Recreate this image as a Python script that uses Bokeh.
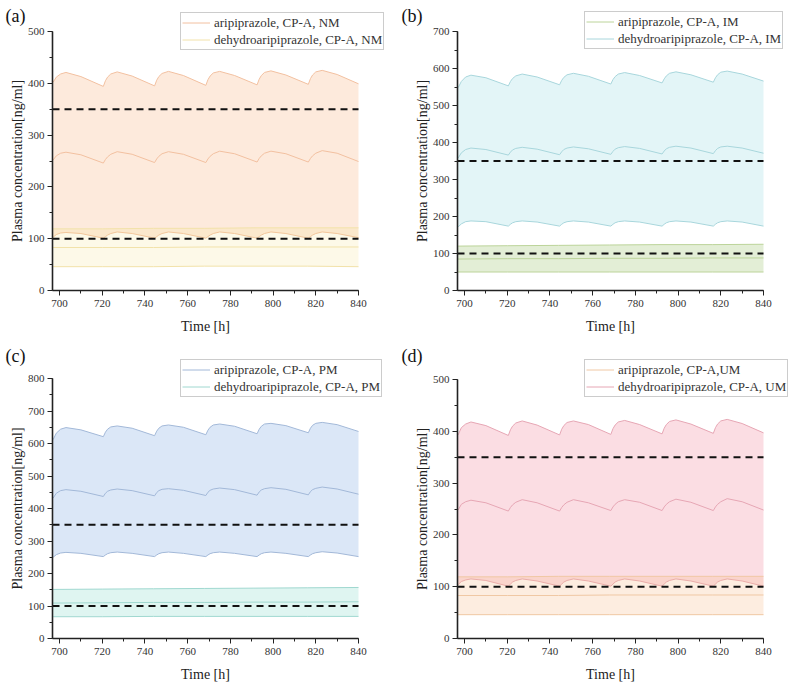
from bokeh.plotting import figure
from bokeh.layouts import gridplot
from bokeh.models import Range1d, SingleIntervalTicker, Legend, LegendItem, Label
from bokeh.embed import file_html
from bokeh.resources import INLINE

FONT = "Liberation Serif"

# ---------------- data ----------------
# time points for the saw-tooth (dosing every 24 h) curves
time_fine = [697, 698.5, 700.5, 703, 710,
             720.5, 721.5, 722.5, 724, 727, 734,
             744.5, 745.5, 746.5, 748, 751, 758,
             768.5, 769.5, 770.5, 772, 775, 782,
             792.5, 793.5, 794.5, 796, 799, 806,
             816.5, 817.5, 818.5, 820, 823, 830,
             840]
# time points for the nearly flat curves
time_coarse = [697, 720, 744, 768, 792, 816, 840]

ref_lines = [100, 350]

# (a) NM
a_ari_upper = [402, 412, 418, 421, 413,
               394, 405, 412, 418, 422, 414,
               395, 406, 413, 419, 423, 415,
               396, 407, 414, 420, 423, 415,
               397, 408, 415, 421, 424, 416,
               398, 409, 416, 422, 425, 417,
               399]
a_ari_median = [252, 260, 265, 267, 262,
                246, 253, 258, 263, 268, 263,
                247, 254, 259, 264, 268, 263,
                247, 254, 259, 264, 269, 264,
                248, 255, 260, 265, 269, 264,
                248, 255, 260, 265, 270, 265,
                249]
a_ari_lower = [103, 108, 111, 112, 110,
               101, 104, 107, 110, 113, 110,
               101, 104, 107, 110, 113, 110,
               101, 104, 107, 110, 113, 110,
               101, 104, 107, 110, 113, 110,
               101, 104, 107, 110, 113, 110,
               102]
a_dehy_upper = [119, 119, 120, 120, 121, 121, 121]
a_dehy_median = [83, 83, 83, 84, 84, 84, 84]
a_dehy_lower = [46, 46, 46, 47, 47, 47, 46]

# (b) IM
b_dehy_upper = [548, 565, 577, 582, 575,
                553, 565, 573, 580, 585, 577,
                556, 568, 576, 583, 587, 579,
                558, 570, 578, 585, 589, 581,
                561, 572, 580, 587, 591, 583,
                563, 575, 583, 590, 593, 585,
                566]
b_dehy_median = [358, 372, 381, 385, 381,
                 366, 374, 380, 384, 387, 382,
                 367, 375, 381, 385, 388, 383,
                 368, 376, 382, 386, 389, 384,
                 369, 377, 383, 387, 390, 385,
                 370, 378, 384, 388, 390, 385,
                 371]
b_dehy_lower = [172, 180, 186, 188, 186,
                174, 179, 183, 186, 188, 185,
                174, 179, 183, 186, 188, 185,
                174, 179, 183, 186, 188, 185,
                174, 179, 183, 186, 188, 185,
                174, 179, 183, 186, 188, 185,
                174]
b_ari_upper = [120, 121, 122, 123, 124, 124, 125]
b_ari_median = [85, 86, 86, 87, 87, 88, 88]
b_ari_lower = [50, 50, 50, 50, 50, 50, 50]

# (c) PM
c_ari_upper = [612, 632, 644, 649, 642,
               621, 635, 644, 651, 654, 647,
               624, 638, 647, 654, 657, 650,
               627, 641, 650, 657, 660, 653,
               630, 644, 653, 660, 662, 655,
               633, 647, 656, 662, 665, 658,
               637]
c_ari_median = [432, 447, 455, 458, 453,
                437, 447, 453, 457, 460, 455,
                439, 449, 455, 459, 461, 456,
                440, 450, 456, 460, 463, 458,
                441, 451, 457, 461, 464, 459,
                442, 452, 458, 462, 466, 460,
                444]
c_ari_lower = [250, 258, 263, 265, 262,
               252, 257, 261, 264, 266, 262,
               252, 257, 261, 264, 266, 262,
               252, 257, 261, 264, 266, 262,
               252, 257, 261, 264, 266, 262,
               252, 257, 261, 264, 267, 263,
               252]
c_dehy_upper = [151, 152, 153, 154, 155, 156, 157]
c_dehy_median = [109, 110, 111, 111, 112, 112, 113]
c_dehy_lower = [67, 67, 68, 68, 68, 68, 68]

# (d) UM
d_dehy_upper = [393, 407, 414, 418, 411,
                392, 403, 410, 416, 420, 412,
                393, 404, 411, 417, 420, 413,
                394, 405, 412, 418, 421, 413,
                395, 406, 413, 419, 422, 414,
                396, 407, 414, 420, 423, 415,
                397]
d_dehy_median = [248, 259, 264, 267, 262,
                 246, 253, 258, 263, 268, 262,
                 246, 253, 258, 263, 268, 262,
                 247, 254, 259, 264, 268, 263,
                 247, 254, 259, 264, 269, 263,
                 247, 254, 259, 264, 270, 264,
                 248]
d_dehy_lower = [104, 110, 113, 115, 112,
                101, 105, 109, 112, 115, 111,
                101, 105, 109, 112, 115, 111,
                101, 105, 109, 112, 115, 111,
                101, 105, 109, 112, 115, 111,
                101, 105, 109, 112, 115, 111,
                101]
d_ari_upper = [119, 119, 120, 120, 120, 120, 120]
d_ari_median = [83, 83, 83, 84, 84, 84, 84]
d_ari_lower = [46, 46, 46, 46, 46, 46, 46]

X_START, X_END = 696.7, 840


def make_panel(tag, ymax, bands, legend_rows, geom):
    # geom: figure size, then the axes box (pixels from the figure's top-left),
    # the tag's top-left corner and the legend's top-left corner
    (w, h, fl, fr, ft, fb, tag_x, tag_y, leg_x, leg_y) = geom
    kx = (fr - fl) / (X_END - X_START)
    ky = (fb - ft) / ymax
    xr = Range1d(X_START - fl / kx, X_END + (w - fr) / kx)
    yr = Range1d(0 - (h - fb) / ky, ymax + ft / ky)
    p = figure(width=w, height=h, output_backend="svg", toolbar_location=None,
               x_range=xr, y_range=yr,
               min_border_left=0, min_border_right=0,
               min_border_top=0, min_border_bottom=0)
    p.title.visible = False
    p.outline_line_color = None
    p.xgrid.visible = False
    p.ygrid.visible = False
    p.background_fill_color = "white"
    p.border_fill_color = "white"

    renderers = {}
    for (xs, lo, mid, hi, fill, fill_alpha, line, key) in bands:
        p.varea(x=xs, y1=lo, y2=hi, fill_color=fill, fill_alpha=fill_alpha)
        p.line(xs, lo, line_color=line, line_width=1)
        p.line(xs, hi, line_color=line, line_width=1)
        renderers[key] = p.line(xs, mid, line_color=line, line_width=1)

    p.segment(x0=[X_START] * len(ref_lines), x1=[X_END] * len(ref_lines),
              y0=ref_lines, y1=ref_lines, line_color="#111111",
              line_width=2, line_dash="7 5")

    p.xaxis.ticker = SingleIntervalTicker(interval=20, num_minor_ticks=2)
    p.yaxis.ticker = SingleIntervalTicker(interval=100, num_minor_ticks=2)
    p.xaxis.fixed_location = 0
    p.yaxis.fixed_location = X_START
    p.xaxis.bounds = (X_START, X_END)
    p.yaxis.bounds = (0, ymax)
    p.xaxis.axis_label = "Time [h]"
    p.yaxis.axis_label = "Plasma concentration[ng/ml]"
    for ax in (p.xaxis[0], p.yaxis[0]):
        ax.axis_line_color = "#222222"
        ax.axis_line_width = 1.6
        ax.major_tick_line_color = "#222222"
        ax.minor_tick_line_color = "#222222"
        ax.major_tick_out = 5
        ax.major_tick_in = 0
        ax.minor_tick_out = 3
        ax.minor_tick_in = 0
        ax.major_label_text_font = FONT
        ax.major_label_text_font_size = "11px"
        ax.major_label_text_color = "#333333"
        ax.axis_label_text_font = FONT
        ax.axis_label_text_font_size = "14px"
        ax.axis_label_text_font_style = "normal"
        ax.axis_label_text_color = "#222222"
    p.xaxis.major_label_standoff = 4
    p.xaxis.axis_label_standoff = 9
    p.yaxis.major_label_standoff = 3
    p.yaxis.axis_label_standoff = 0

    legend_h = 36
    items = [LegendItem(label=txt, renderers=[renderers[k]]) for (txt, k) in legend_rows]
    leg = Legend(items=items, location=(leg_x, h - leg_y - legend_h),
                 label_text_font=FONT, label_text_font_size="13px",
                 label_text_color="#333333",
                 label_height=17, glyph_height=17, glyph_width=28,
                 label_standoff=4, spacing=0, padding=1, margin=0,
                 border_line_color="#9a9a9a", border_line_width=1,
                 background_fill_color="white", background_fill_alpha=1)
    p.add_layout(leg, "center")

    p.add_layout(Label(x=tag_x, y=h - tag_y, x_units="screen", y_units="screen",
                       text=tag, text_font=FONT, text_font_size="18px",
                       text_color="#111111", text_baseline="top"))
    return p


pa = make_panel("(a)", 500, [
    (time_fine, a_ari_lower, a_ari_median, a_ari_upper, "#f8b98a", 0.30, "#f2c0a0", "ari"),
    (time_coarse, a_dehy_lower, a_dehy_median, a_dehy_upper, "#f6e08a", 0.20, "#f2e2aa", "dehy"),
], [("aripiprazole, CP-A, NM", "ari"), ("dehydroaripiprazole, CP-A, NM", "dehy")],
    (396, 343, 52, 358, 31, 290, 5, 5, 180, 14))

pb = make_panel("(b)", 700, [
    (time_fine, b_dehy_lower, b_dehy_median, b_dehy_upper, "#7fd0dc", 0.22, "#a8d6dc", "dehy"),
    (time_coarse, b_ari_lower, b_ari_median, b_ari_upper, "#9cc26a", 0.28, "#bcd49a", "ari"),
], [("aripiprazole, CP-A, IM", "ari"), ("dehydroaripiprazole, CP-A, IM", "dehy")],
    (396, 343, 61, 367, 31, 290, 5, 5, 188, 13))

pc = make_panel("(c)", 800, [
    (time_fine, c_ari_lower, c_ari_median, c_ari_upper, "#6fa0e0", 0.25, "#a2b8d8", "ari"),
    (time_coarse, c_dehy_lower, c_dehy_median, c_dehy_upper, "#6fd0c0", 0.22, "#a0d8d0", "dehy"),
], [("aripiprazole, CP-A, PM", "ari"), ("dehydroaripiprazole, CP-A, PM", "dehy")],
    (396, 343, 52, 358, 35, 295, 5, 2, 180, 18))

pd_ = make_panel("(d)", 500, [
    (time_fine, d_dehy_lower, d_dehy_median, d_dehy_upper, "#f07890", 0.25, "#e6a6b4", "dehy"),
    (time_coarse, d_ari_lower, d_ari_median, d_ari_upper, "#f8c090", 0.28, "#f0c8a4", "ari"),
], [("aripiprazole, CP-A,UM", "ari"), ("dehydroaripiprazole, CP-A, UM", "dehy")],
    (396, 343, 61, 367, 36, 295, 5, 2, 188, 18))

grid = gridplot([[pa, pb], [pc, pd_]], toolbar_location=None)

open("out.html", "w").write(file_html(grid, INLINE))
